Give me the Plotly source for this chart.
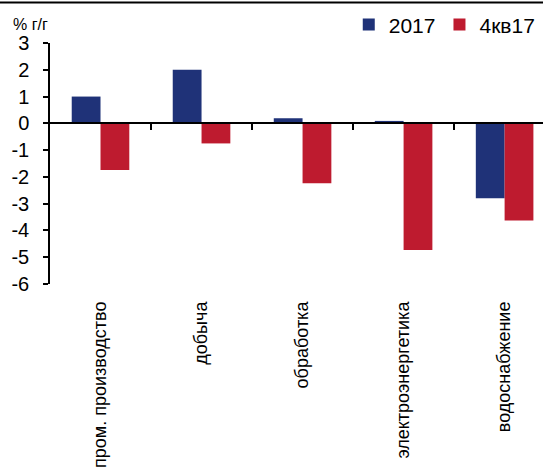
import plotly.graph_objects as go

categories = ["пром. производство", "добыча", "обработка", "электроэнергетика", "водоснабжение"]
series_2017 = [1.0, 2.0, 0.19, 0.09, -2.8]
series_4q17 = [-1.74, -0.75, -2.24, -4.73, -3.63]
series_names = ["2017", "4кв17"]
y_ticks = [3, 2, 1, 0, -1, -2, -3, -4, -5, -6]
y_tick_labels = ["3", "2", "1", "0", "-1", "-2", "-3", "-4", "-5", "-6"]

BLUE = "#1F3278"
RED = "#BE1B2F"
FONT = "Liberation Sans, Arial, sans-serif"

fig = go.Figure()
fig.add_trace(go.Bar(x=list(range(len(categories))), y=series_2017, name=series_names[0],
                     marker=dict(color=BLUE, line=dict(width=0)), legend="legend"))
fig.add_trace(go.Bar(x=list(range(len(categories))), y=series_4q17, name=series_names[1],
                     marker=dict(color=RED, line=dict(width=0)), legend="legend2"))
# invisible trace to carry the zero-line axis with category boundary ticks
fig.add_trace(go.Scatter(x=[0], y=[0], xaxis="x2", mode="markers",
                         marker=dict(opacity=0), showlegend=False, hoverinfo="skip"))

leg_common = dict(orientation="h", xanchor="left", y=1.16, yanchor="top",
                  font=dict(size=21, family=FONT), bgcolor="rgba(0,0,0,0)",
                  itemwidth=30)

fig.update_layout(
    width=543, height=467,
    margin=dict(l=50, r=0, t=43, b=183, autoexpand=False),
    paper_bgcolor="white", plot_bgcolor="white",
    barmode="group", bargap=0.43, bargroupgap=0,
    font=dict(family=FONT, color="black"),
    showlegend=True,
    legend=dict(x=0.606, **leg_common),
    legend2=dict(x=0.79, **leg_common),
    xaxis=dict(range=[-0.5, 4.38], tickmode="array", tickvals=list(range(len(categories))),
               ticktext=categories, tickangle=-90, ticks="", showline=False,
               showgrid=False, zeroline=False, tickfont=dict(size=18, family=FONT),
               ticklabelstandoff=13),
    xaxis2=dict(overlaying="x", matches="x", anchor="free", position=6/9,
                showline=True, linecolor="black", linewidth=1.5,
                ticks="outside", ticklen=6, tickwidth=1.5, tickcolor="black",
                tickmode="array", tickvals=[0.5, 1.5, 2.5, 3.5], showticklabels=False,
                showgrid=False, zeroline=False),
    yaxis=dict(range=[-6, 3], tickmode="array", tickvals=y_ticks, ticktext=y_tick_labels,
               ticks="outside", ticklen=5, tickwidth=1.5, tickcolor="black", showline=True,
               linecolor="black", linewidth=1.5, showgrid=False, zeroline=False,
               tickfont=dict(size=20, family=FONT), ticklabelstandoff=10),
    annotations=[dict(text="% г/г", xref="paper", yref="paper", x=-0.08, y=1.075,
                      xanchor="left", yanchor="middle", showarrow=False,
                      font=dict(size=16, family=FONT))],
    shapes=[dict(type="line", xref="paper", yref="paper", x0=-0.11, x1=1.0,
                 y0=1.168, y1=1.168, line=dict(color="black", width=2))],
)

fig.write_html("out.html", config={"displayModeBar": False},
               post_script="document.body.style.margin='0px';")
